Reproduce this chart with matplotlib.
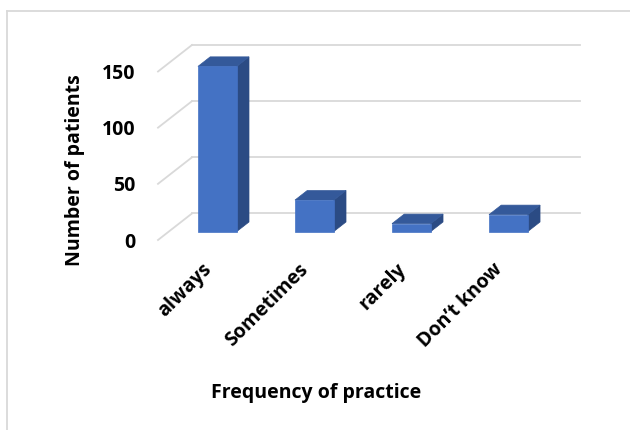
import matplotlib
matplotlib.use("Agg")
import matplotlib.pyplot as plt
from matplotlib.patches import Polygon
from matplotlib.lines import Line2D

categories = ["always", "Sometimes", "rarely", "Don\u2019t know"]
patients = [147, 28, 7, 15]
y_ticks = [0, 50, 100, 150]
y_tick_labels = ["0", "50", "100", "150"]

plt.rcParams["font.family"] = ["Open Sans", "DejaVu Sans"]

W, H = 630, 430
fig = plt.figure(figsize=(W / 100, H / 100), dpi=100)

# axes region: front-left corner of floor to back-right top of wall
ax = fig.add_axes([158 / W, (H - 240) / H, 422 / W, 195 / H])

DX = 0.35     # oblique depth offset in category units
DY = 23.6     # oblique depth offset in value units
YMAX = 150
n = len(categories)
ax.set_xlim(0, n + DX)
ax.set_ylim(0, YMAX + DY)
for s in ax.spines.values():
    s.set_visible(False)

grid_c = "#D9D9D9"
for v in y_ticks:
    ax.plot([0, DX], [v, v + DY], color=grid_c, lw=1.3, clip_on=False, zorder=1)
    ax.plot([DX, n + DX], [v + DY, v + DY], color=grid_c, lw=1.3, clip_on=False, zorder=1)

front_c = "#4472C4"
top_c = "#34599A"
side_c = "#2B4B84"
d0, d1 = 0.32, 0.68
bw = 0.40
dd = d1 - d0
for i, val in enumerate(patients):
    c = i + 0.5
    x0 = c - bw / 2 + d0 * DX
    x1 = c + bw / 2 + d0 * DX
    yb = d0 * DY
    yt = yb + val
    ox, oy = dd * DX, dd * DY
    side = [(x1, yb), (x1 + ox, yb + oy), (x1 + ox, yt + oy), (x1, yt)]
    top = [(x0, yt), (x1, yt), (x1 + ox, yt + oy), (x0 + ox, yt + oy)]
    front = [(x0, yb), (x1, yb), (x1, yt), (x0, yt)]
    ax.add_patch(Polygon(side, closed=True, fc=side_c, ec=side_c, lw=0.5, zorder=3))
    ax.add_patch(Polygon(top, closed=True, fc=top_c, ec=top_c, lw=0.5, zorder=3))
    ax.add_patch(Polygon(front, closed=True, fc=front_c, ec=front_c, lw=0.5, zorder=4))

FS = 14
ax.set_yticks(y_ticks)
ax.set_yticklabels(y_tick_labels, fontsize=FS, fontweight="bold")
ax.tick_params(axis="y", length=0, pad=16)

ax.set_xticks([i + 0.45 for i in range(n)])
ax.set_xticklabels(categories, fontsize=FS, fontweight="bold", rotation=45,
                   ha="right", rotation_mode="anchor")
ax.tick_params(axis="x", length=0, pad=14)

fig.text(75 / W, 1 - 170 / H, "Number of patients", rotation=90,
         ha="center", va="center", fontsize=FS, fontweight="bold")
fig.text(316 / W, 1 - 393 / H, "Frequency of practice",
         ha="center", va="center", fontsize=FS, fontweight="bold")

# chart area border
fig.add_artist(Line2D([6.5 / W, 6.5 / W], [0, 1 - 10.5 / H], color=grid_c, lw=1.3))
fig.add_artist(Line2D([6.5 / W, 1], [1 - 10.5 / H, 1 - 10.5 / H], color=grid_c, lw=1.3))

fig.savefig("out.png", dpi=100)
